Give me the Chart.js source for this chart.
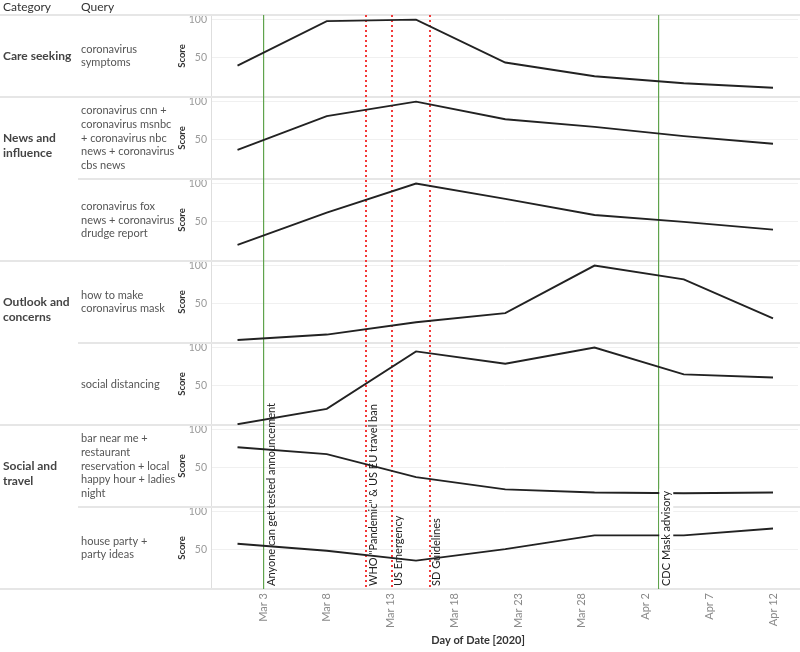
<!DOCTYPE html>
<html>
<head>
<meta charset="utf-8">
<script src="https://cdn.jsdelivr.net/npm/chart.js@4/dist/chart.umd.min.js"></script>
<style>
  body { margin: 0; background: #fff; }
  #wrap { width: 800px; height: 652px; }
</style>
</head>
<body>
<div id="wrap"><canvas id="trendsChart" width="800" height="652"></canvas></div>
<script>
// Weekly points (Google Trends style score, 0-100)
const weekLabels = ['Mar 1', 'Mar 8', 'Mar 15', 'Mar 22', 'Mar 29', 'Apr 5', 'Apr 12'];

const careSymptoms      = [40, 98, 100, 44, 26, 17, 11];
const newsCnnMsnbc      = [37, 81, 100, 77, 67, 55, 45];
const newsFoxDrudge     = [20, 62, 100, 80, 59, 50, 40];
const outlookMask       = [3, 10, 26, 38, 100, 82, 31];
const outlookDistancing = [0, 20, 95, 79, 100, 65, 61];
const socialBarsNight   = [77, 68, 38, 22, 18, 17, 18];
const socialHouseParty  = [58, 49, 36, 51, 69, 69, 78];

const seriesValues = [careSymptoms, newsCnnMsnbc, newsFoxDrudge, outlookMask,
                      outlookDistancing, socialBarsNight, socialHouseParty];

// Left-hand table text
const categories = [['Care seeking'], ['News and', 'influence'], ['Outlook and', 'concerns'], ['Social and', 'travel']];
const categorySizes = [1, 2, 2, 2];
const queries = [
  ['coronavirus', 'symptoms'],
  ['coronavirus cnn +', 'coronavirus msnbc', '+ coronavirus nbc', 'news + coronavirus', 'cbs news'],
  ['coronavirus fox', 'news + coronavirus', 'drudge report'],
  ['how to make', 'coronavirus mask'],
  ['social distancing'],
  ['bar near me +', 'restaurant', 'reservation + local', 'happy hour + ladies', 'night'],
  ['house party +', 'party ideas']
];

// Axes
const tickLabels = ['Mar 3', 'Mar 8', 'Mar 13', 'Mar 18', 'Mar 23', 'Mar 28', 'Apr 2', 'Apr 7', 'Apr 12'];
const scoreTicks = [50, 100];
const xTitle = 'Day of Date [2020]';

// Reference events
const eventDates  = ['Mar 3', 'Mar 11', 'Mar 13', 'Mar 16', 'Apr 3'];
const eventLabels = ['Anyone can get tested announcement', 'WHO "Pandemic" & US EU travel ban',
                     'US Emergency', 'SD Guidelines', 'CDC Mask advisory'];
const eventKinds  = ['milestone', 'policy', 'policy', 'policy', 'milestone'];

// days since Mar 1 2020
function dayOf(label) {
  const [mon, d] = label.split(' ');
  return (mon === 'Apr' ? 31 : 0) + Number(d) - 1;
}

const FONT = 'Lato, "Open Sans", sans-serif';
Chart.defaults.font.family = FONT;

const scales = {
  x: {
    type: 'linear',
    min: -2.08,
    max: 43.96,
    afterBuildTicks: s => { s.ticks = tickLabels.map(t => ({ value: dayOf(t) })); },
    afterFit: s => { s.height = 60; },
    grid: { display: false, drawTicks: false },
    border: { display: false },
    ticks: {
      autoSkip: false,
      minRotation: 90,
      maxRotation: 90,
      padding: 4,
      color: '#8a8a8a',
      font: { size: 11 },
      callback: (v, i) => tickLabels[i]
    }
  }
};

seriesValues.forEach((vals, i) => {
  scales['y' + i] = {
    type: 'linear',
    position: 'left',
    stack: 'panels',
    stackWeight: 1,
    weight: seriesValues.length - i,
    min: -1,
    max: 106,
    afterBuildTicks: s => { s.ticks = scoreTicks.map(v => ({ value: v })); },
    afterFit: s => { s.width = 45; },
    grid: { color: '#f0f0f0', drawTicks: false },
    border: { display: true, color: '#dedede' },
    ticks: { color: '#9a9a9a', font: { size: 10.5 }, padding: 4 },
    title: {
      display: true,
      text: 'Score',
      color: '#333',
      font: { size: 9.5, weight: 'bold' },
      padding: { top: 10, bottom: 0 }
    }
  };
});

const datasets = seriesValues.map((vals, i) => ({
  label: queries[i].join(' '),
  data: vals.map((v, j) => ({ x: dayOf(weekLabels[j]), y: v })),
  yAxisID: 'y' + i,
  borderColor: '#222',
  borderWidth: 1.9,
  pointRadius: 0,
  tension: 0,
  fill: false
}));

function panelScales(chart) {
  return seriesValues.map((v, i) => chart.scales['y' + i]);
}

// separators, table text and event lines
const tablePlugin = {
  id: 'tablePlugin',
  beforeDatasetsDraw(chart) {
    const { ctx, chartArea } = chart;
    const panels = panelScales(chart);
    ctx.save();
    ctx.strokeStyle = '#e6e6e6';
    ctx.lineWidth = 2;
    // header rule
    ctx.beginPath();
    ctx.moveTo(0, chartArea.top);
    ctx.lineTo(chart.width, chartArea.top);
    ctx.stroke();
    let idx = 0;
    const catEnds = new Set();
    categorySizes.forEach(n => { idx += n; catEnds.add(idx - 1); });
    panels.forEach((s, i) => {
      const y = Math.round(s.bottom);
      ctx.beginPath();
      ctx.moveTo(catEnds.has(i) ? 0 : 78, y);
      ctx.lineTo(chart.width, y);
      ctx.stroke();
    });

    // event lines
    const x = chart.scales.x;
    const h = chartArea.bottom - chartArea.top;
    eventDates.forEach((d, i) => {
      const px = Math.round(x.getPixelForValue(dayOf(d)));
      if (eventKinds[i] === 'policy') {
        ctx.fillStyle = '#f23a3a';
        for (let y = chartArea.top; y < chartArea.bottom; y += 5) {
          ctx.fillRect(px, y, 2, 2);
        }
      } else {
        ctx.fillStyle = '#5fa34c';
        ctx.fillRect(px, chartArea.top, 1.2, h);
      }
    });
    ctx.restore();
  },
  afterDatasetsDraw(chart) {
    const { ctx, chartArea } = chart;
    const panels = panelScales(chart);
    ctx.save();

    // header
    ctx.fillStyle = '#333';
    ctx.font = '12px ' + FONT;
    ctx.textBaseline = 'middle';
    ctx.textAlign = 'left';
    ctx.fillText('Category', 3, 7);
    ctx.fillText('Query', 81, 7);

    // categories: first line at centre of first panel
    let p = 0;
    ctx.font = 'bold 12px ' + FONT;
    ctx.fillStyle = '#444';
    categories.forEach((lines, c) => {
      const s = panels[p];
      const y0 = (s.top + s.bottom) / 2;
      lines.forEach((t, k) => ctx.fillText(t, 3, y0 + k * 15));
      p += categorySizes[c];
    });

    // queries, centred in their panel
    ctx.font = '11px ' + FONT;
    ctx.fillStyle = '#555';
    queries.forEach((lines, i) => {
      const s = panels[i];
      const mid = (s.top + s.bottom) / 2;
      const lh = 13.6;
      const y0 = mid - (lines.length - 1) * lh / 2;
      lines.forEach((t, k) => ctx.fillText(t, 81, y0 + k * lh));
    });

    // x axis title
    ctx.font = 'bold 11px ' + FONT;
    ctx.fillStyle = '#333';
    ctx.textAlign = 'center';
    ctx.fillText(xTitle, chartArea.left + (chartArea.right - chartArea.left) * 0.455, chart.height - 12);

    // event labels, rotated
    const x = chart.scales.x;
    ctx.font = '11px ' + FONT;
    eventDates.forEach((d, i) => {
      const px = x.getPixelForValue(dayOf(d));
      ctx.save();
      ctx.translate(px + 8, chartArea.bottom - 3);
      ctx.rotate(-Math.PI / 2);
      if (i === eventDates.length - 1) {
        const w = ctx.measureText(eventLabels[i]).width;
        ctx.fillStyle = '#fff';
        ctx.fillRect(-2, -7, w + 4, 14);
      }
      ctx.fillStyle = '#222';
      ctx.textAlign = 'left';
      ctx.textBaseline = 'middle';
      ctx.fillText(eventLabels[i], 0, 0);
      ctx.restore();
    });
    ctx.restore();
  }
};

const trendsChart = new Chart(document.getElementById('trendsChart'), {
  type: 'line',
  data: { datasets },
  options: {
    responsive: false,
    animation: false,
    layout: { padding: { left: 166, top: 15, right: 2, bottom: 3 } },
    plugins: {
      legend: { display: false },
      tooltip: { enabled: false }
    },
    scales
  },
  plugins: [tablePlugin]
});
</script>
</body>
</html>
